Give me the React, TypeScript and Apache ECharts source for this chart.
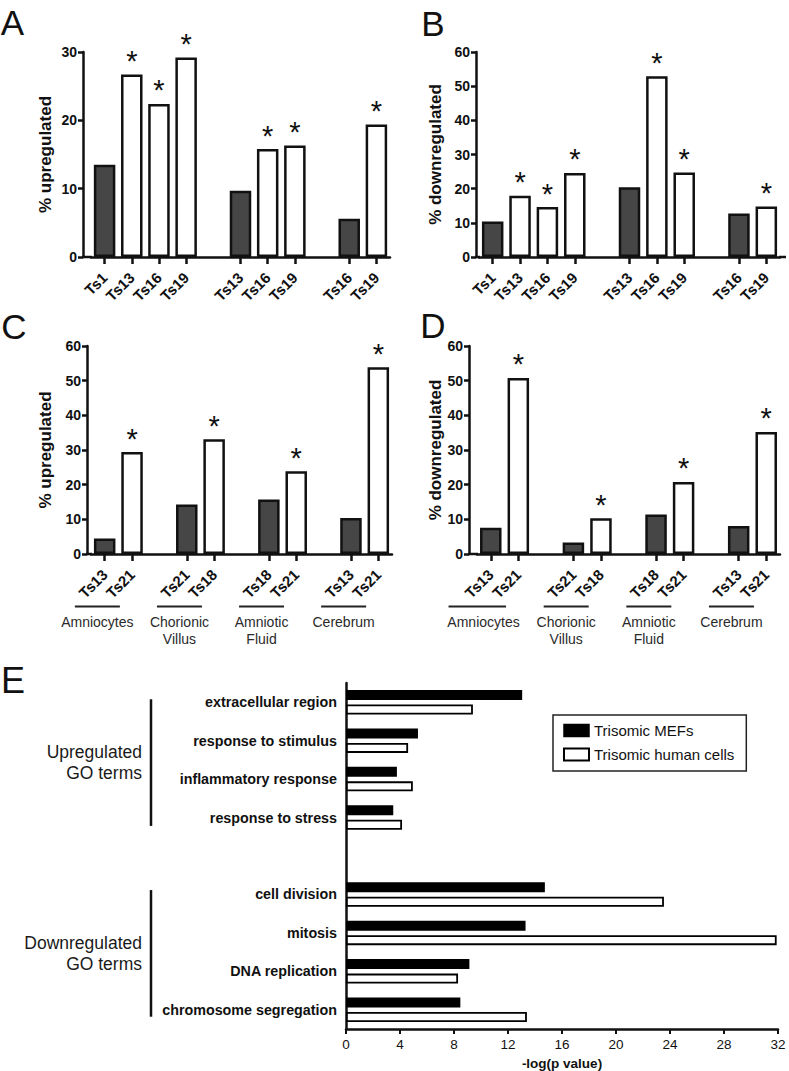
import React, { useEffect, useRef } from 'react';
import * as echarts from 'echarts';

// ---------- data ----------
const aCats = ['Ts1', 'Ts13', 'Ts16', 'Ts19', '', 'Ts13', 'Ts16', 'Ts19', '', 'Ts16', 'Ts19'];
const aKinds = ['c', 't', 't', 't', '', 'c', 't', 't', '', 'c', 't'];
const aValues = [13.5, 26.7, 22.4, 29.2, null, 9.7, 15.8, 16.3, null, 5.6, 19.4];

const bCats = aCats;
const bKinds = aKinds;
const bValues = [10.4, 17.9, 14.6, 24.6, null, 20.4, 52.9, 24.7, null, 12.7, 14.8];

const cCats = ['Ts13', 'Ts21', '', 'Ts21', 'Ts18', '', 'Ts18', 'Ts21', '', 'Ts13', 'Ts21'];
const cKinds = ['c', 't', '', 'c', 't', '', 'c', 't', '', 'c', 't'];
const cValues = [4.5, 29.4, null, 14.3, 33.1, null, 15.7, 23.9, null, 10.4, 53.9];

const dCats = cCats;
const dKinds = cKinds;
const dValues = [7.6, 50.8, null, 3.3, 10.3, null, 11.4, 20.8, null, 8.1, 35.2];

const tissueGroups = ['Amniocytes', 'Chorionic\nVillus', 'Amniotic\nFluid', 'Cerebrum'];

const eTerms = [
  'extracellular region',
  'response to stimulus',
  'inflammatory response',
  'response to stress',
  '',
  'cell division',
  'mitosis',
  'DNA replication',
  'chromosome segregation',
];
const eMefs = [13.05, 5.33, 3.77, 3.5, null, 14.73, 13.3, 9.14, 8.47];
const eHuman = [9.4, 4.6, 4.95, 4.15, null, 23.55, 31.9, 8.3, 13.4];
const eGroups = ['Upregulated\nGO terms', 'Downregulated\nGO terms'];
const eSeriesNames = ['Trisomic MEFs', 'Trisomic human cells'];

// ---------- style ----------
const FONT = "'Liberation Sans', Arial, Helvetica, sans-serif";
const INK = '#111';
const DARK = '#464646';
const LW = 2.5;

type Layout = {
  axisX: number; left: number; width: number; top: number; height: number;
  max: number; name: string; nameGap: number; rightEnd: number; letter: string;
  letterX: number; letterY: number;
};

const layouts: Layout[] = [
  { axisX: 83, left: 91, width: 299, top: 52, height: 205, max: 30, name: '% upregulated', nameGap: 29, rightEnd: 390, letter: 'A', letterX: 12.5, letterY: 22 },
  { axisX: 476, left: 479, width: 301, top: 52, height: 205, max: 60, name: '% downregulated', nameGap: 32, rightEnd: 786, letter: 'B', letterX: 433, letterY: 23 },
  { axisX: 87, left: 91, width: 301, top: 346, height: 208, max: 60, name: '% upregulated', nameGap: 33, rightEnd: 392, letter: 'C', letterX: 14, letterY: 326 },
  { axisX: 469, left: 477, width: 303, top: 346, height: 208, max: 60, name: '% downregulated', nameGap: 25, rightEnd: 780, letter: 'D', letterX: 433, letterY: 325 },
];

const panelData = [
  { cats: aCats, kinds: aKinds, values: aValues },
  { cats: bCats, kinds: bKinds, values: bValues },
  { cats: cCats, kinds: cKinds, values: cValues },
  { cats: dCats, kinds: dKinds, values: dValues },
];

function buildOption() {
  const grid: any[] = [];
  const xAxis: any[] = [];
  const yAxis: any[] = [];
  const series: any[] = [];
  const graphic: any[] = [];

  layouts.forEach((L, i) => {
    const P = panelData[i];
    grid.push({ left: L.left, top: L.top, width: L.width, height: L.height });
    xAxis.push({
      gridIndex: i,
      type: 'category',
      data: P.cats,
      axisLine: { lineStyle: { color: INK, width: LW } },
      axisTick: {
        show: true,
        alignWithLabel: true,
        length: 7,
        interval: (_idx: number, v: string) => v !== '',
        lineStyle: { color: INK, width: LW },
      },
      axisLabel: {
        interval: 0, rotate: 45, margin: 18, color: INK,
        fontFamily: FONT, fontWeight: 'bold', fontSize: 15,
      },
    });
    yAxis.push({
      gridIndex: i,
      type: 'value',
      min: 0,
      max: L.max,
      interval: 10,
      offset: L.left - L.axisX,
      axisLine: { show: true, lineStyle: { color: INK, width: LW } },
      axisTick: { show: true, length: 5, lineStyle: { color: INK, width: LW } },
      axisLabel: { margin: 6, color: INK, fontFamily: FONT, fontWeight: 'bold', fontSize: 14 },
      splitLine: { show: false },
      name: L.name,
      nameLocation: 'middle',
      nameGap: L.nameGap,
      nameTextStyle: { color: INK, fontFamily: FONT, fontWeight: 'bold', fontSize: 17 },
    });
    series.push({
      type: 'bar',
      xAxisIndex: i,
      yAxisIndex: i,
      barWidth: 21.5,
      label: {
        show: false, position: 'top', formatter: '*', distance: -1,
        color: INK, fontFamily: FONT, fontSize: 29,
      },
      data: P.values.map((v, k) =>
        v == null
          ? '-'
          : {
              value: v,
              itemStyle: {
                color: P.kinds[k] === 'c' ? DARK : '#fff',
                borderColor: INK,
                borderWidth: LW,
              },
              label: { show: P.kinds[k] === 't' },
            }
      ),
    });
    const baseY = L.top + L.height;
    graphic.push({
      type: 'line', silent: true,
      shape: { x1: L.axisX - 1, y1: baseY, x2: L.left + 1, y2: baseY },
      style: { stroke: INK, lineWidth: LW },
    });
    if (L.rightEnd > L.left + L.width) {
      graphic.push({
        type: 'line', silent: true,
        shape: { x1: L.left + L.width - 1, y1: baseY, x2: L.rightEnd, y2: baseY },
        style: { stroke: INK, lineWidth: LW },
      });
    }
    graphic.push({
      type: 'text', x: L.letterX, y: L.letterY,
      style: { text: L.letter, font: `35px ${FONT}`, fill: INK, textAlign: 'center', textVerticalAlign: 'middle' },
    });
    // tissue group annotations for C and D
    if (i >= 2) {
      const step = L.width / P.cats.length;
      tissueGroups.forEach((g, gi) => {
        const pairCenter = L.left + (gi * 3 + 1) * step;
        const cx = pairCenter - 21;
        const extL = i === 3 && gi === 0 ? 35 : 22.5;
        graphic.push({
          type: 'line', silent: true,
          shape: { x1: cx - extL, y1: 606.5, x2: cx + 22.5, y2: 606.5 },
          style: { stroke: '#222', lineWidth: 1.8 },
        });
        graphic.push({
          type: 'text', x: cx, y: 613,
          style: {
            text: g, font: `14px ${FONT}`, fill: '#2a2a2a', textAlign: 'center',
            textVerticalAlign: 'top', lineHeight: 17,
          },
        });
      });
    }
  });

  // ---------- panel E ----------
  const E = { left: 346, top: 683, width: 432, height: 347 };
  grid.push({ left: E.left, top: E.top, width: E.width, height: E.height });
  xAxis.push({
    gridIndex: 4,
    type: 'value', min: 0, max: 32, interval: 4,
    axisLine: { show: true, lineStyle: { color: INK, width: LW } },
    axisTick: { show: true, length: 5, lineStyle: { color: INK, width: 2 } },
    axisLabel: { margin: 8, color: INK, fontFamily: FONT, fontSize: 13.5 },
    splitLine: { show: false },
    name: '-log(p value)', nameLocation: 'middle', nameGap: 27,
    nameTextStyle: { color: INK, fontFamily: FONT, fontWeight: 'bold', fontSize: 13.5 },
  });
  yAxis.push({
    gridIndex: 4,
    type: 'category', inverse: true, data: eTerms,
    axisLine: { lineStyle: { color: INK, width: LW } },
    axisTick: { alignWithLabel: true, length: 5, lineStyle: { color: INK, width: LW } },
    axisLabel: { interval: 0, margin: 9, color: INK, fontFamily: FONT, fontWeight: 'bold', fontSize: 14.3 },
  });
  series.push({
    name: eSeriesNames[0], type: 'bar', xAxisIndex: 4, yAxisIndex: 4,
    barWidth: 10, barGap: '45%',
    itemStyle: { color: '#000', borderColor: '#000', borderWidth: 1.5 },
    data: eMefs.map((v) => (v == null ? '-' : v)),
  });
  series.push({
    name: eSeriesNames[1], type: 'bar', xAxisIndex: 4, yAxisIndex: 4,
    barWidth: 10, barGap: '45%',
    itemStyle: { color: '#fff', borderColor: '#000', borderWidth: 1.8 },
    data: eHuman.map((v) => (v == null ? '-' : v)),
  });

  const eStep = E.height / eTerms.length;
  const eC = (k: number) => E.top + (k + 0.5) * eStep;
  const brackets = [
    [eC(0) - 3, eC(3) + 8],
    [eC(5) - 5, eC(8) + 6],
  ];
  brackets.forEach((b, bi) => {
    graphic.push({
      type: 'line', silent: true,
      shape: { x1: 151, y1: b[0], x2: 151, y2: b[1] },
      style: { stroke: INK, lineWidth: LW },
    });
    graphic.push({
      type: 'text', x: 142, y: (b[0] + b[1]) / 2,
      style: {
        text: eGroups[bi], font: `17.5px ${FONT}`, fill: '#1a1a1a', textAlign: 'right',
        textVerticalAlign: 'middle', lineHeight: 21,
      },
    });
  });
  graphic.push({
    type: 'text', x: 13, y: 680.5,
    style: { text: 'E', font: `36px ${FONT}`, fill: INK, textAlign: 'center', textVerticalAlign: 'middle' },
  });

  return {
    animation: false,
    backgroundColor: '#fff',
    grid,
    xAxis,
    yAxis,
    series,
    legend: {
      show: true,
      selectedMode: false,
      orient: 'vertical',
      left: 553,
      top: 715,
      icon: 'rect',
      itemWidth: 25,
      itemHeight: 12,
      itemGap: 9,
      padding: [8, 12, 9, 10],
      borderColor: '#222',
      borderWidth: 1.5,
      textStyle: { fontSize: 15, color: INK, fontFamily: FONT, lineHeight: 15 },
      data: [
        { name: eSeriesNames[0], itemStyle: { color: '#000', borderColor: '#000', borderWidth: 1.5 } },
        { name: eSeriesNames[1], itemStyle: { color: '#fff', borderColor: '#000', borderWidth: 2 } },
      ],
    },
    graphic,
  };
}

export default function App() {
  const ref = useRef<HTMLDivElement>(null);
  useEffect(() => {
    document.body.style.margin = '0';
    if (!ref.current) return;
    const chart = echarts.init(ref.current, undefined, { renderer: 'svg' });
    chart.setOption(buildOption() as any);
    return () => chart.dispose();
  }, []);
  return <div ref={ref} style={{ width: 789, height: 1071 }} />;
}
